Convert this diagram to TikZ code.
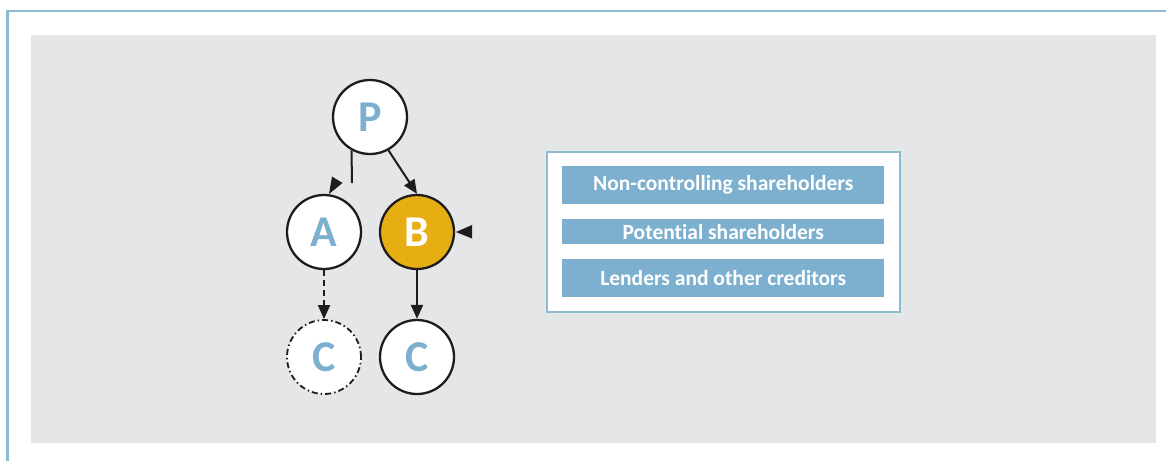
\documentclass[tikz,border=0pt]{standalone}
\usepackage{fontspec}
\setmainfont[Ligatures=NoCommon]{Carlito}
\usetikzlibrary{arrows.meta}
\definecolor{bgray}{HTML}{E5E6E8}
\definecolor{frameblue}{HTML}{8DBAD3}
\definecolor{barblue}{HTML}{7DB0CF}
\definecolor{letterblue}{HTML}{7DB0CF}
\definecolor{gold}{HTML}{E6AE12}
\definecolor{ink}{HTML}{1E1C1D}
\tikzset{
  ent/.style={circle, draw=ink, line width=2.3pt, fill=white, minimum size=74pt, inner sep=0pt,
    font=\bfseries\fontsize{44}{44}\selectfont, text=letterblue},
  conn/.style={draw=ink, line width=2pt, -{Triangle[length=14pt,width=12pt]}},
  bar/.style={fill=barblue, text=white, font=\bfseries\fontsize{21.5}{21.5}\selectfont, inner sep=0pt, minimum width=322pt, anchor=north west},
  tip/.style={fill=ink}
}
\begin{document}
\begin{tikzpicture}[x=1pt,y=-1pt]
\useasboundingbox (0,0) rectangle (1166,461);
\draw[frameblue, line width=2.5pt] (7.5,461) -- (7.5,11) -- (1166,11);
\fill[bgray] (31,35) rectangle (1156,443);
% entities
\node[ent] (P) at (370,117) {P};
\node[ent] (A) at (324,232) {A};
\node[ent, fill=gold, text=white] (B) at (417,232) {B};
\node[ent, dash pattern=on 6pt off 3pt on 1.5pt off 3pt, line width=1.8pt] (C1) at (324,357) {C};
\node[ent] (C2) at (417,357) {C};
% connectors
\coordinate (pa) at (352,183);
\draw[draw=ink, line width=2pt] (P.241) -- (pa);
\fill[tip] (329,194) -- (332,176.5) -- (342.5,183) -- cycle;
\draw[conn] (P.299) -- (B.north);
\draw[conn, dash pattern=on 6pt off 4pt] (A.south) -- (C1.north);
\draw[conn] (B.south) -- (C2.north);
\coordinate (bt) at (456,232);
\fill[tip] (bt) -- (472,225) -- (472,238.5) -- cycle;
% box
\draw[frameblue, line width=2pt, fill=white] (547,152) rectangle (900,312);
\node[bar, minimum height=38pt] (b1) at (562,166) {Non-controlling shareholders};
\node[bar, minimum height=25pt] (b2) at (562,219) {Potential shareholders};
\node[bar, minimum height=38pt] (b3) at (562,259) {Lenders and other creditors};
\end{tikzpicture}
\end{document}
